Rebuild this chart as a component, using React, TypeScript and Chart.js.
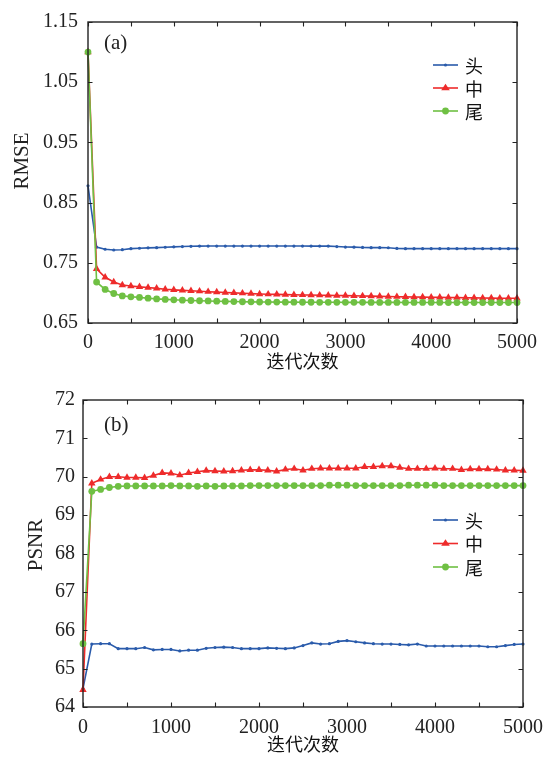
import React, { useEffect, useRef } from 'react';
import { Chart, registerables } from 'chart.js';

Chart.register(...registerables);

// ---------------- data ----------------
const ITERATIONS = [
  0, 100, 200, 300, 400, 500, 600, 700, 800, 900, 1000, 1100, 1200, 1300, 1400, 1500, 1600,
  1700, 1800, 1900, 2000, 2100, 2200, 2300, 2400, 2500, 2600, 2700, 2800, 2900, 3000, 3100,
  3200, 3300, 3400, 3500, 3600, 3700, 3800, 3900, 4000, 4100, 4200, 4300, 4400, 4500, 4600,
  4700, 4800, 4900, 5000,
];

const SERIES_NAMES = ['头', '中', '尾'];

const RMSE_HEAD = [
  0.878, 0.776, 0.7725, 0.7713, 0.7718, 0.7735, 0.7742, 0.7748, 0.7752, 0.7758, 0.7765,
  0.777, 0.7774, 0.7777, 0.7778, 0.7778, 0.7778, 0.7778, 0.7778, 0.7778, 0.7778,
  0.7778, 0.7778, 0.7778, 0.7778, 0.7778, 0.7777, 0.7777, 0.7777, 0.777, 0.7762,
  0.776, 0.7755, 0.7752, 0.7752, 0.775, 0.7738, 0.7735, 0.7735, 0.7735, 0.7735,
  0.7735, 0.7735, 0.7735, 0.7735, 0.7735, 0.7735, 0.7735, 0.7735, 0.7735, 0.7735,
];

const RMSE_MID = [
  1.1, 0.74, 0.726, 0.718, 0.713, 0.7115, 0.71, 0.709, 0.7075, 0.706, 0.705,
  0.7042, 0.7035, 0.7028, 0.702, 0.7013, 0.7006, 0.7, 0.6995, 0.6988, 0.6982,
  0.6978, 0.6975, 0.6972, 0.6969, 0.6966, 0.6964, 0.6962, 0.6959, 0.6957, 0.6955,
  0.6952, 0.6949, 0.6946, 0.6943, 0.694, 0.6937, 0.6934, 0.6931, 0.6929, 0.6927,
  0.6925, 0.6923, 0.6921, 0.6919, 0.6917, 0.6915, 0.6914, 0.6912, 0.6911, 0.691,
];

const RMSE_TAIL = [
  1.1, 0.718, 0.7057, 0.699, 0.695, 0.6935, 0.6925, 0.6912, 0.69, 0.6892, 0.6885,
  0.6879, 0.6874, 0.687, 0.6866, 0.6862, 0.6859, 0.6856, 0.6853, 0.6851, 0.6849,
  0.6848, 0.6847, 0.6846, 0.6846, 0.6845, 0.6845, 0.6844, 0.6844, 0.6844, 0.6843,
  0.6843, 0.6843, 0.6842, 0.6842, 0.6842, 0.6842, 0.6841, 0.6841, 0.6841, 0.6841,
  0.6841, 0.684, 0.684, 0.684, 0.684, 0.684, 0.684, 0.684, 0.684, 0.684,
];

const PSNR_HEAD = [
  64.48, 65.64, 65.65, 65.65, 65.52, 65.52, 65.52, 65.55, 65.49, 65.5, 65.5,
  65.46, 65.48, 65.48, 65.53, 65.55, 65.56, 65.55, 65.52, 65.52, 65.52,
  65.54, 65.53, 65.52, 65.54, 65.6, 65.67, 65.64, 65.65, 65.71, 65.73,
  65.7, 65.67, 65.65, 65.64, 65.64, 65.63, 65.62, 65.64, 65.59, 65.59,
  65.59, 65.59, 65.59, 65.59, 65.59, 65.57, 65.57, 65.6, 65.63, 65.64,
];

const PSNR_MID = [
  64.45, 69.83, 69.93, 70.0, 70.0, 69.98, 69.98, 69.97, 70.03, 70.1, 70.09,
  70.04, 70.1, 70.13, 70.16, 70.15, 70.14, 70.15, 70.17, 70.18, 70.18,
  70.17, 70.14, 70.19, 70.21, 70.17, 70.21, 70.22, 70.22, 70.22, 70.22,
  70.22, 70.26, 70.26, 70.28, 70.28, 70.24, 70.21, 70.21, 70.21, 70.22,
  70.21, 70.21, 70.18, 70.2, 70.2, 70.2, 70.19, 70.17, 70.17, 70.16,
];

const PSNR_TAIL = [
  65.65, 69.62, 69.67, 69.72, 69.75, 69.76, 69.76, 69.76, 69.76, 69.76, 69.77,
  69.76, 69.76, 69.75, 69.76, 69.75, 69.76, 69.76, 69.76, 69.77, 69.77,
  69.77, 69.77, 69.77, 69.77, 69.77, 69.77, 69.77, 69.78, 69.78, 69.78,
  69.77, 69.77, 69.77, 69.77, 69.77, 69.77, 69.78, 69.78, 69.78, 69.78,
  69.77, 69.77, 69.77, 69.77, 69.77, 69.77, 69.77, 69.77, 69.77, 69.77,
];

const RMSE_TICKS = { min: 0.65, max: 1.15, step: 0.1, decimals: 2 };
const PSNR_TICKS = { min: 64, max: 72, step: 1, decimals: 0 };
const X_RANGE = { min: 0, max: 5000, step: 500, labelEvery: 1000 };

// ---------------- styles ----------------
const SERIF = '"Liberation Serif", serif';
const CJK = '"Noto Sans CJK SC", sans-serif';
const AXIS_COLOR = '#222222';
const STYLES = [
  { color: '#2a5bab', pointStyle: 'circle', radius: 1.6 },
  { color: '#ee2b2b', pointStyle: 'triangle', radius: 4.3 },
  { color: '#6fc043', pointStyle: 'circle', radius: 3.4 },
];

type Panel = {
  values: number[][];
  yTicks: { min: number; max: number; step: number; decimals: number };
  yTitle: string;
  tag: string;
  layout: {
    yAxisWidth: number;
    xAxisHeight: number;
    padTop: number;
    padRight: number;
    yTickPad: number;
    xTickPad: number;
    xTitlePad: number;
    yTitleX: number;
    yTitleY: number;
    tagX: number;
    tagY: number;
    legendX: number;
    legendY: number;
    legendGap: number;
  };
};

function drawMarker(ctx: CanvasRenderingContext2D, style: string, r: number, x: number, y: number, color: string) {
  ctx.save();
  ctx.fillStyle = color;
  ctx.beginPath();
  if (style === 'triangle') {
    ctx.moveTo(x, y - r);
    ctx.lineTo(x + r * 0.866 * 1.15, y + r * 0.5 * 1.1);
    ctx.lineTo(x - r * 0.866 * 1.15, y + r * 0.5 * 1.1);
    ctx.closePath();
  } else {
    ctx.arc(x, y, r, 0, Math.PI * 2);
  }
  ctx.fill();
  ctx.restore();
}

const decorPlugin = {
  id: 'decor',
  afterDraw(chart: any, _args: any, opts: any) {
    const { ctx, chartArea } = chart;
    const { left, right, top, bottom } = chartArea;
    const xs = chart.scales.x;
    const ys = chart.scales.y;
    ctx.save();
    // frame
    ctx.strokeStyle = AXIS_COLOR;
    ctx.lineWidth = 1.4;
    ctx.strokeRect(left, top, right - left, bottom - top);
    // inward ticks on all four sides
    const tl = 4.5;
    ctx.lineWidth = 1.1;
    ctx.beginPath();
    xs.ticks.forEach((t: any) => {
      const px = Math.round(xs.getPixelForValue(t.value)) + 0.5;
      ctx.moveTo(px, bottom);
      ctx.lineTo(px, bottom - tl);
      ctx.moveTo(px, top);
      ctx.lineTo(px, top + tl);
    });
    ys.ticks.forEach((t: any) => {
      const py = Math.round(ys.getPixelForValue(t.value)) + 0.5;
      ctx.moveTo(left, py);
      ctx.lineTo(left + tl, py);
      ctx.moveTo(right, py);
      ctx.lineTo(right - tl, py);
    });
    ctx.stroke();

    // panel tag
    ctx.fillStyle = AXIS_COLOR;
    ctx.font = `21px ${SERIF}`;
    ctx.textAlign = 'left';
    ctx.textBaseline = 'middle';
    ctx.fillText(opts.tag, opts.tagX, opts.tagY);

    // y title
    ctx.save();
    ctx.translate(opts.yTitleX, opts.yTitleY);
    ctx.rotate(-Math.PI / 2);
    ctx.textAlign = 'center';
    ctx.font = `21px ${SERIF}`;
    ctx.fillText(opts.yTitle, 0, 0);
    ctx.restore();

    // legend
    chart.data.datasets.forEach((ds: any, i: number) => {
      const y = opts.legendY + i * opts.legendGap;
      const x0 = opts.legendX;
      const x1 = x0 + 25;
      ctx.strokeStyle = ds.borderColor;
      ctx.lineWidth = 1.6;
      ctx.beginPath();
      ctx.moveTo(x0, y);
      ctx.lineTo(x1, y);
      ctx.stroke();
      drawMarker(ctx, ds.pointStyle, ds.pointRadius, (x0 + x1) / 2, y, ds.borderColor);
      ctx.fillStyle = '#111';
      ctx.font = `18px ${CJK}`;
      ctx.textAlign = 'left';
      ctx.fillText(ds.label, x1 + 7, y + 1);
    });
    ctx.restore();
  },
};

function makeConfig(panel: Panel): any {
  const L = panel.layout;
  const datasets = panel.values.map((vals, i) => ({
    label: SERIES_NAMES[i],
    data: ITERATIONS.map((x, k) => ({ x, y: vals[k] })),
    borderColor: STYLES[i].color,
    backgroundColor: STYLES[i].color,
    pointBackgroundColor: STYLES[i].color,
    pointBorderColor: STYLES[i].color,
    pointStyle: STYLES[i].pointStyle,
    pointRadius: STYLES[i].radius,
    pointBorderWidth: 0,
    borderWidth: 1.6,
    tension: 0,
    clip: false,
    order: 2 - i,
  }));
  return {
    type: 'line',
    data: { datasets },
    plugins: [decorPlugin],
    options: {
      responsive: false,
      animation: false,
      events: [],
      layout: { padding: { left: 0, top: L.padTop, right: L.padRight, bottom: 0 } },
      plugins: {
        legend: { display: false },
        tooltip: { enabled: false },
        decor: {
          tag: panel.tag,
          tagX: L.tagX,
          tagY: L.tagY,
          yTitle: panel.yTitle,
          yTitleX: L.yTitleX,
          yTitleY: L.yTitleY,
          legendX: L.legendX,
          legendY: L.legendY,
          legendGap: L.legendGap,
        },
      },
      scales: {
        x: {
          type: 'linear',
          min: X_RANGE.min,
          max: X_RANGE.max,
          grid: { display: false, drawTicks: false },
          border: { display: false },
          afterFit: (s: any) => {
            s.height = L.xAxisHeight;
          },
          ticks: {
            stepSize: X_RANGE.step,
            autoSkip: false,
            maxRotation: 0,
            padding: L.xTickPad,
            color: AXIS_COLOR,
            font: { family: SERIF, size: 20 },
            callback: (v: number) => (v % X_RANGE.labelEvery === 0 ? String(v) : ''),
          },
          title: {
            display: true,
            text: '迭代次数',
            color: '#111',
            font: { family: CJK, size: 18 },
            padding: { top: 0, bottom: L.xTitlePad },
          },
        },
        y: {
          type: 'linear',
          min: panel.yTicks.min,
          max: panel.yTicks.max,
          grid: { display: false, drawTicks: false },
          border: { display: false },
          afterFit: (s: any) => {
            s.width = L.yAxisWidth;
          },
          ticks: {
            stepSize: panel.yTicks.step,
            padding: L.yTickPad,
            color: AXIS_COLOR,
            font: { family: SERIF, size: 20 },
            callback: (v: number) => v.toFixed(panel.yTicks.decimals),
          },
        },
      },
    },
  };
}

const TOP_PANEL: Panel = {
  values: [RMSE_HEAD, RMSE_MID, RMSE_TAIL],
  yTicks: RMSE_TICKS,
  yTitle: 'RMSE',
  tag: '(a)',
  layout: {
    yAxisWidth: 88,
    xAxisHeight: 57,
    padTop: 15,
    padRight: 38,
    yTickPad: 10,
    xTickPad: 8,
    xTitlePad: 8,
    yTitleX: 22,
    yTitleY: 161,
    tagX: 104,
    tagY: 43,
    legendX: 433,
    legendY: 65,
    legendGap: 23,
  },
};

const BOTTOM_PANEL: Panel = {
  values: [PSNR_HEAD, PSNR_MID, PSNR_TAIL],
  yTicks: PSNR_TICKS,
  yTitle: 'PSNR',
  tag: '(b)',
  layout: {
    yAxisWidth: 83,
    xAxisHeight: 53,
    padTop: 19,
    padRight: 32,
    yTickPad: 8,
    xTickPad: 9,
    xTitlePad: 5,
    yTitleX: 36,
    yTitleY: 165,
    tagX: 104,
    tagY: 45,
    legendX: 433,
    legendY: 140,
    legendGap: 23.5,
  },
};

function PanelChart({ panel }: { panel: Panel }) {
  const ref = useRef<HTMLCanvasElement | null>(null);
  useEffect(() => {
    if (!ref.current) return;
    const chart = new Chart(ref.current, makeConfig(panel));
    return () => chart.destroy();
  }, [panel]);
  return <canvas ref={ref} width={555} height={380} style={{ display: 'block', width: 555, height: 380 }} />;
}

export default function App() {
  return (
    <div style={{ position: 'absolute', left: 0, top: 0, width: 555, height: 760, background: '#fff' }}>
      <PanelChart panel={TOP_PANEL} />
      <PanelChart panel={BOTTOM_PANEL} />
    </div>
  );
}
